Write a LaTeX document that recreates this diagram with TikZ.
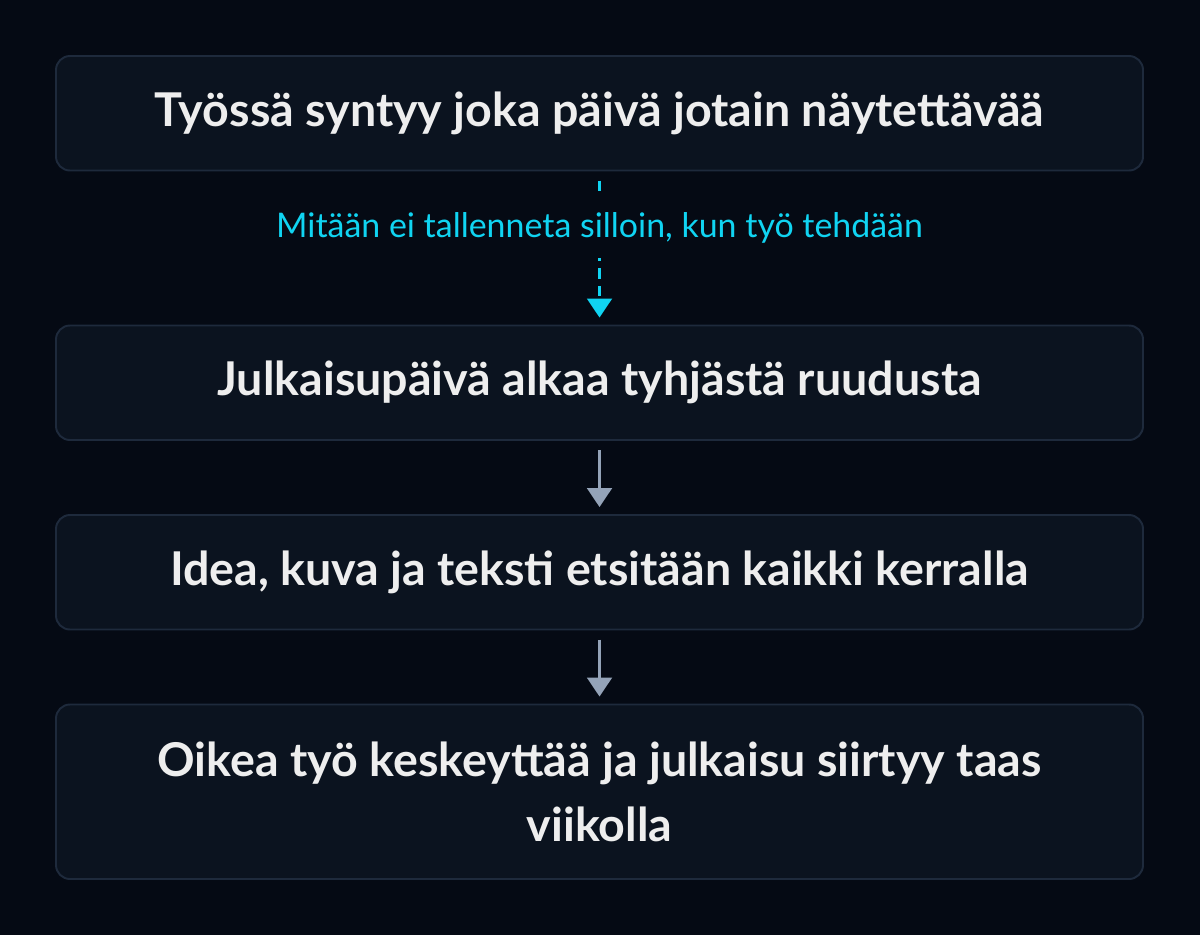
\documentclass[tikz,border=0pt]{standalone}
\usepackage{fontspec}
\setmainfont{Lato}
\usetikzlibrary{positioning,arrows.meta}
\definecolor{bgdark}{HTML}{050A14}
\definecolor{boxfill}{HTML}{0B131F}
\definecolor{boxline}{HTML}{1E2A3C}
\definecolor{boxtext}{HTML}{EEEEEE}
\definecolor{cyanline}{HTML}{10D4F2}
\definecolor{grayline}{HTML}{94A3B8}
\begin{document}
\begin{tikzpicture}
	\tikzstyle{stage} = [draw=boxline, line width=1.1pt, fill=boxfill, rectangle, rounded corners=0.28cm, minimum height=2.29cm, minimum width=21.74cm, outer sep=0pt, text=boxtext, font=\fontsize{26.5}{37}\selectfont\bfseries, align=center, inner sep=0pt]
	\tikzstyle{flow} = [draw=grayline, line width=1.2pt, -{Triangle[length=0.38cm, width=0.5cm]}, shorten <=0.2cm, shorten >=0.16cm]

	\fill[bgdark] (0,0) rectangle (24,-18.7);
	\useasboundingbox (0,0) rectangle (24,-18.7);

	\node[stage, anchor=north west] (work) at (1.12,-1.12) {Työssä syntyy joka päivä jotain näytettävää};
	\node[stage, below=3.1cm of work] (day) {Julkaisupäivä alkaa tyhjästä ruudusta};
	\node[stage, below=1.5cm of day] (search) {Idea, kuva ja teksti etsitään kaikki kerralla};
	\node[stage, below=1.5cm of search, minimum height=3.49cm] (delay) {Oikea työ keskeyttää ja julkaisu siirtyy taas\\viikolla};

	\draw[draw=cyanline, line width=1.2pt, dash pattern=on 6pt off 4pt, -{Triangle[length=0.38cm, width=0.5cm]}, shorten <=0.2cm, shorten >=0.16cm] (work) -- node[pos=0.37, fill=bgdark, text=cyanline, font=\fontsize{19.3}{23}\selectfont, inner sep=0.3cm] {Mitään ei tallenneta silloin, kun työ tehdään} (day);
	\draw[flow] (day) -- (search);
	\draw[flow] (search) -- (delay);
\end{tikzpicture}
\end{document}
